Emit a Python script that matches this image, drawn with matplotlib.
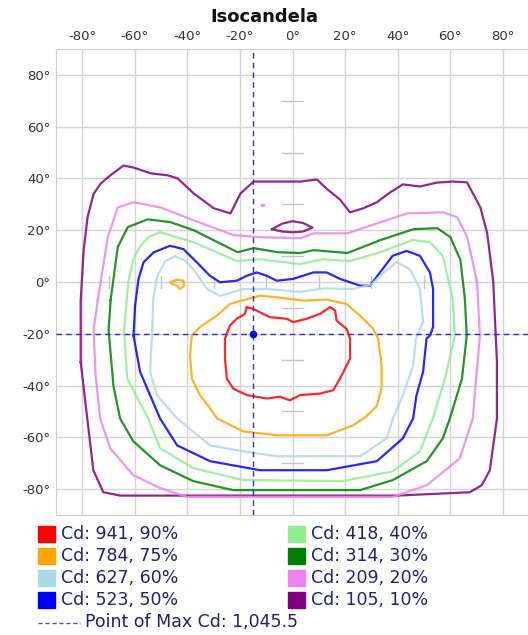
import numpy as np
import matplotlib
matplotlib.use("Agg")
import matplotlib.pyplot as plt
from matplotlib.patches import Rectangle
from matplotlib.lines import Line2D

# isocandela contours, (horizontal deg, vertical deg)
cd_941 = [(-17.4, -9.7), (-14.9, -10.4), (-12.4, -11.7), (-8.6, -13.6), (-2.2, -14.2), (0.3, -15.5),
          (5.4, -14.2), (10.5, -12.3), (14.3, -9.7), (16.2, -11), (16.8, -14.9), (20.6, -18.1),
          (21.9, -21.9), (21.9, -29.6), (20.6, -32.2), (18.1, -37.3), (15.5, -41.8), (10.5, -43.1),
          (2.9, -43.7), (-1, -45.7), (-4.8, -44.3), (-9.8, -45), (-17.4, -43.7), (-22.5, -41.2),
          (-25, -37.3), (-25.7, -29.6), (-25.7, -21.9), (-23.8, -16.8), (-21.2, -14.2), (-18.1, -12.3)]
cd_784 = [(-14.9, -5.9), (-23.8, -8.5), (-28.8, -13), (-35.2, -17.4), (-38.3, -20.7), (-39, -28.3),
          (-38.3, -37.3), (-35.2, -43.7), (-31.4, -48.8), (-28.7, -52.7), (-18.8, -57.7), (-5.9, -59.2),
          (13.1, -59.2), (23, -55.4), (28, -52), (32, -48), (33.9, -41.2), (33.9, -32.2), (32.6, -21.9),
          (30.7, -18.1), (25.7, -13), (20.6, -8.5), (13, -6.8), (4.1, -7.2), (-6, -5.9), (-12.4, -5.3)]
cd_784_island = [(-46.4, -0.1), (-44, 0.9), (-41.5, 0.5), (-41.2, -1.4), (-42.8, -2.7), (-44, -1.4),
                 (-45.9, -0.8)]
cd_627 = [(-53.4, -19.2), (-53, -6.5), (-51.5, 2), (-48.5, 8), (-44.7, 10), (-40.5, 8), (-37.8, 5),
          (-32.5, -2.7), (-27.6, -5.4), (-18.8, -2.7), (-9.7, -2.7), (2.9, -3.8), (12, -2.5), (23, -2.7),
          (30, -1), (35, 4), (39.6, 7.6), (44.7, 5), (48.5, -2.7), (49.7, -15.4), (47, -21.9),
          (45.9, -32.2), (42.1, -43.7), (38.2, -52.7), (35.9, -60.4), (25.7, -67.3), (-5.9, -67.3),
          (-18.8, -65.4), (-31.4, -63.1), (-43.9, -52.7), (-51.6, -43.7), (-54.2, -34.7)]
cd_523 = [(-60.5, -20.7), (-59.9, -9.1), (-58.6, 1.2), (-56.7, 7.6), (-52.9, 11.4), (-46.6, 14),
          (-41.5, 12.7), (-36.4, 7.6), (-31.4, 2.4), (-27.6, -0.1), (-21.2, 0.5), (-17.4, 2.4),
          (-13.6, 3.7), (-9.8, 2.4), (-6, 0.5), (0.3, 1.2), (7.9, 3.7), (13, 3.7), (18.1, 1.2),
          (25.7, -1.4), (29.5, -1.4), (33.3, 3.7), (38.1, 10.1), (43.4, 12), (48.5, 10.1), (52.3, 3.7),
          (53.5, -2.7), (53.5, -17.4), (52.3, -20.7), (51, -21.9), (49.7, -34.7), (47.2, -43.7),
          (45.9, -52.7), (42, -60.4), (32.1, -69.2), (13.1, -72.7), (-12.4, -72.7), (-31.4, -69.2),
          (-43.9, -63.1), (-50.4, -52.7), (-54.2, -43.7), (-58, -34.7)]
cd_418 = [(-64.1, -19.2), (-62.5, 0), (-60.5, 9), (-58, 13.8), (-54.5, 17.5), (-50.4, 19.2),
          (-37.8, 15.4), (-21.1, 8.1), (-12.4, 8.8), (2.9, 6.9), (11.6, 8.8), (21.9, 8.1), (33.3, 11.5),
          (45.7, 16.2), (52.3, 15.4), (57.2, 10), (61, -6.5), (61.8, -20.8), (58, -37.3), (53.4, -52.7),
          (48.5, -65.4), (38.2, -73.1), (19.2, -76.9), (-18.8, -76.5), (-37.8, -71.9), (-50.4, -64.2),
          (-54.9, -52.7), (-62.9, -37.3)]
cd_314 = [(-69.2, -6.9), (-70, -18.5), (-68.1, -40.4), (-65.6, -52.7), (-60.6, -61.5), (-50.4, -70.8),
          (-37.8, -76.9), (-22.6, -80.4), (25.7, -80.4), (38.2, -76.5), (51.1, -69.2), (57.2, -60.4),
          (59.9, -52.7), (64.5, -37.3), (66.3, -20.8), (65.6, -6.5), (63.9, 8.5), (60.1, 17.3),
          (55.1, 20.8), (46, 20.4), (33.5, 16.2), (20.9, 11.2), (8, 12.3), (3, 11.2), (-5.7, 11.5),
          (-14.8, 13.1), (-20.9, 11.5), (-37.6, 20), (-46.4, 23.1), (-55.1, 24.2), (-62.7, 21.2),
          (-66.5, 13.5)]
cd_209 = [(-74.1, -7), (-75.7, -18.5), (-75, -35), (-73.2, -52.7), (-69.4, -64.2), (-60.6, -74.6),
          (-50.4, -79.6), (-40.1, -83), (38.2, -83), (51.1, -78.5), (63.7, -68.1), (68.6, -52.7),
          (71.3, -20.8), (70.3, -0.4), (66.5, 17.3), (62.7, 25), (57.4, 26.9), (43.7, 26.5), (33.5, 23.1),
          (20.9, 18.8), (8, 18.8), (3, 16.9), (-12.2, 17.3), (-22.4, 18.1), (-37.6, 23.8), (-50.2, 28.8),
          (-60.5, 30.8), (-66.5, 28.8), (-70.3, 17.3)]
cd_209_dot = [(-11.6, 29.9), (-11, 29.9), (-11, 29.3), (-11.6, 29.3)]
cd_105 = [(-80.6, -31), (-80.6, -7), (-79.5, 12), (-78, 25), (-75.7, 34), (-73, 38), (-70.3, 40.4),
          (-64.3, 45), (-60.5, 44.2), (-54, 42), (-47.5, 41.2), (-43.7, 40), (-37.6, 34.2), (-30, 28.5),
          (-23.6, 26.5), (-19.8, 34.2), (-14.8, 38.8), (3, 38.8), (9.3, 39.6), (13, 36), (18, 31.9),
          (21.9, 26.9), (27, 28.5), (32.1, 30.8), (37, 34.5), (42, 37.7), (48.5, 36.9), (55, 38.4),
          (61, 38.8), (66.4, 38.5), (71.5, 28.8), (74.1, 18.8), (76.4, 0), (77.8, -30.8), (77.8, -52.7),
          (75.1, -72.7), (72, -78.5), (67.5, -81.2), (40, -82.5), (-40, -82.5), (-65.6, -82.5),
          (-72, -81.2), (-75.8, -72.7), (-78.1, -52.7)]
cd_105_island = [(-7.8, 20.4), (-4, 22.5), (0, 23.5), (4, 22.8), (7.6, 21), (4, 19.5), (0, 19.2),
                 (-4, 19.5)]

max_point = (-15, -20)
axis_ticks = [-80, -60, -40, -20, 0, 20, 40, 60, 80]
center_marks = [-70, -50, -30, -10, 10, 30, 50, 70]

legend_labels = ['Cd: 941, 90%', 'Cd: 784, 75%', 'Cd: 627, 60%', 'Cd: 523, 50%',
                 'Cd: 418, 40%', 'Cd: 314, 30%', 'Cd: 209, 20%', 'Cd: 105, 10%']
legend_colors = ['#ff0000', '#ffa500', '#add8e6', '#0000ff',
                 '#90ee90', '#008000', '#ee82ee', '#800080']
max_label = 'Point of Max Cd: 1,045.5'

contours = [
    (cd_105, '#800080'), (cd_105_island, '#800080'),
    (cd_209, '#ee82ee'), (cd_209_dot, '#ee82ee'),
    (cd_314, '#008000'), (cd_418, '#90ee90'),
    (cd_523, '#0000ff'), (cd_627, '#add8e6'),
    (cd_784, '#ffa500'), (cd_784_island, '#ffa500'),
    (cd_941, '#ff0000'),
]

W, H = 528, 635
fig = plt.figure(figsize=(W / 100, H / 100), dpi=100)
ax = fig.add_axes([56 / W, 1 - 515 / H, 473 / W, 466 / H])
ax.set_xlim(-90, 90)
ax.set_ylim(-90, 90)

ax.set_xticks(axis_ticks)
ax.set_yticks(axis_ticks)
ax.set_xticklabels([f'{t}°' for t in axis_ticks])
ax.set_yticklabels([f'{t}°' for t in axis_ticks])
ax.xaxis.tick_top()
ax.tick_params(length=0, labelsize=9.5, labelcolor='#333333', pad=4)
ax.grid(True, color='#d4d4d4', lw=1)
ax.set_axisbelow(True)
for s in ax.spines.values():
    s.set_color('#cfcfcf')

# little gray marks along the centre axes
for m in center_marks:
    ax.plot([-4, 4], [m, m], color='#c4c4c4', lw=1, zorder=1)
    ax.plot([m, m], [-2.5, 2.5], color='#c4c4c4', lw=1, zorder=1)

for pts, col in contours:
    xy = np.array(pts + [pts[0]])
    ax.plot(xy[:, 0], xy[:, 1], color=col, lw=1.6, alpha=0.85, zorder=3)

ax.axvline(max_point[0], color='#3030c0', lw=1, ls=(0, (4, 3)), zorder=4)
ax.axhline(max_point[1], color='#3030c0', lw=1, ls=(0, (4, 3)), zorder=4)
ax.plot(*max_point, 'o', color='#0000ee', ms=4.5, zorder=5)

fig.text(0.5, 1 - 17 / H, 'Isocandela', ha='center', va='center',
         fontsize=13, fontweight='bold', color='#111111')

# legend
text_col = '#1f1f78'
rows = [534, 556, 578, 600]
for i, (lab, col) in enumerate(zip(legend_labels, legend_colors)):
    cx = 38 if i < 4 else 288
    cy = rows[i % 4]
    fig.patches.append(Rectangle((cx / W, 1 - (cy + 8) / H), 17 / W, 16 / H,
                                 transform=fig.transFigure, color=col))
    fig.text((cx + 23) / W, 1 - cy / H, lab, ha='left', va='center',
             fontsize=12.5, color=text_col)

fig.lines.append(Line2D([38 / W, 80 / W], [1 - 623 / H, 1 - 623 / H], transform=fig.transFigure,
                        color='#5050c0', lw=1, ls=(0, (3, 2))))
fig.text(85 / W, 1 - 622 / H, max_label, ha='left', va='center', fontsize=12.5, color=text_col)

fig.savefig('out.png', dpi=100)
